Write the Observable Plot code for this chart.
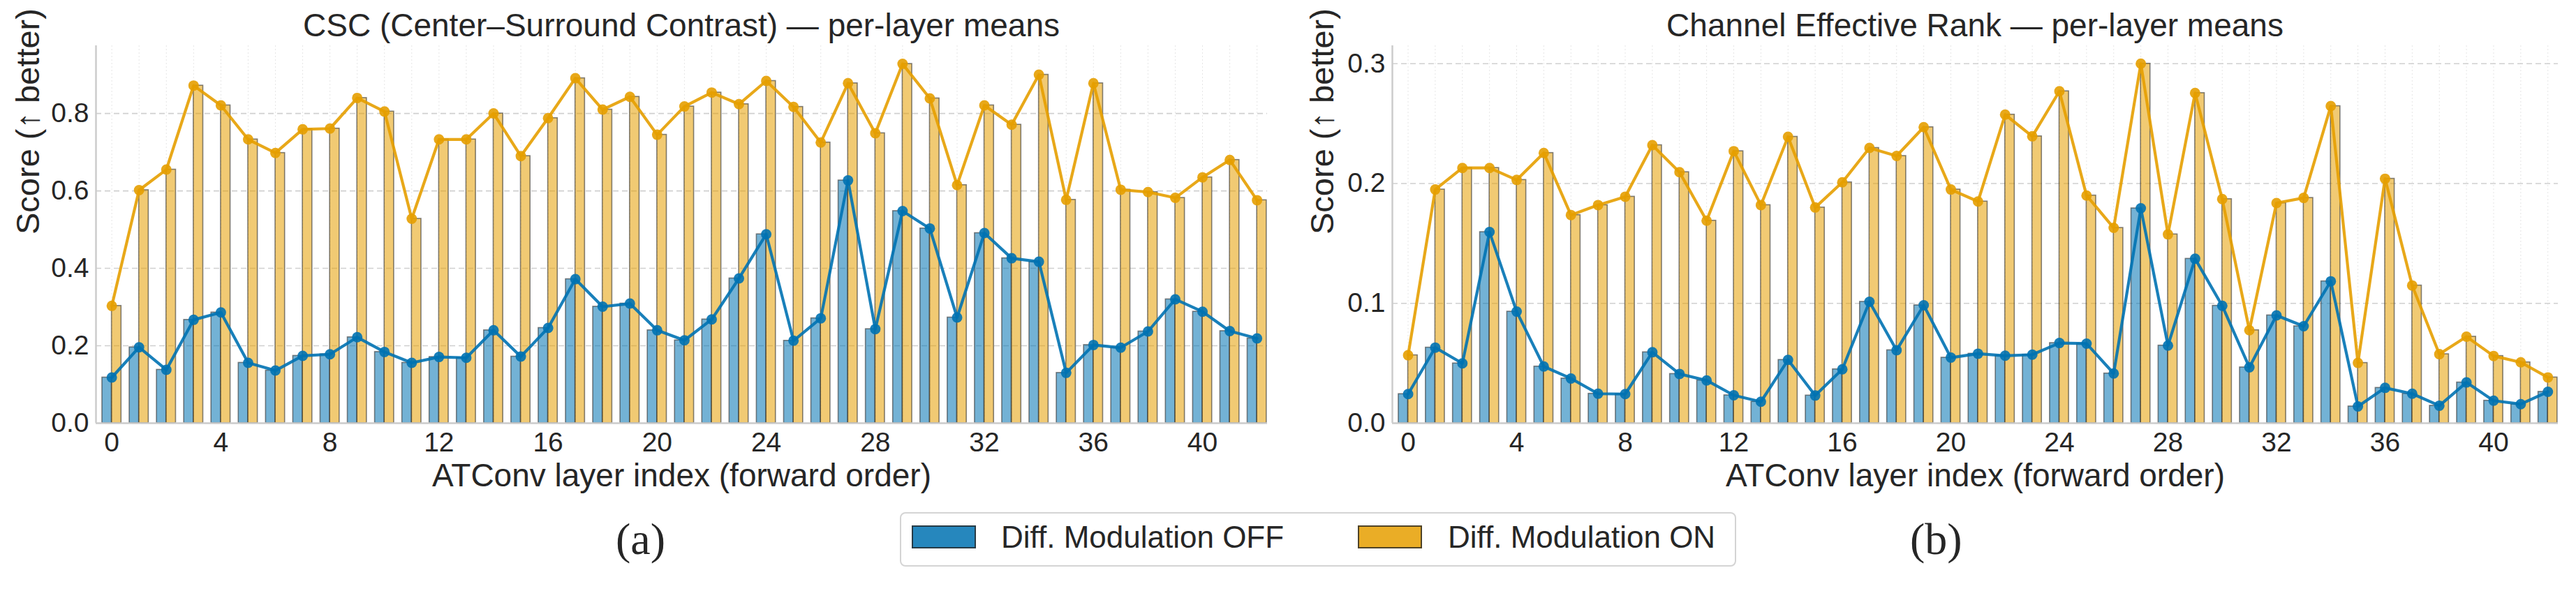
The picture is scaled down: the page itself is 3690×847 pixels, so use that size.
<!DOCTYPE html>
<html>
<head>
<meta charset="utf-8">
<script src="https://cdn.jsdelivr.net/npm/d3@7"></script>
<script src="https://cdn.jsdelivr.net/npm/@observablehq/plot@0.6"></script>
<style>
  body { margin: 0; background: #fff; }
  #fig { position: relative; width: 3690px; height: 847px; font-family: "Liberation Sans", Arial, sans-serif; color: #262626; overflow: hidden; }
  .panel { position: absolute; top: 0; }
  .title { position: absolute; top: 13px; font-size: 46px; line-height: 46px; text-align: center; white-space: nowrap; }
  .legend { position: absolute; left: 1289px; top: 734px; width: 1194px; height: 74px; border: 2px solid #d4d4d4; border-radius: 8px; background: #fff; }
  .sw { position: absolute; top: 17px; width: 88px; height: 29px; border: 2px solid rgba(40,40,40,0.8); }
  .lt { position: absolute; top: 12px; font-size: 44px; line-height: 44px; white-space: nowrap; }
  .tag { position: absolute; top: 741px; font-family: "Liberation Serif", "Times New Roman", serif; font-size: 64px; line-height: 64px; }
</style>
</head>
<body>
<div id="fig"></div>
<script>
// ---- data ----
const layers = [0,1,2,3,4,5,6,7,8,9,10,11,12,13,14,15,16,17,18,19,20,21,22,23,24,25,26,27,28,29,30,31,32,33,34,35,36,37,38,39,40,41,42];
const xTicks = [0,4,8,12,16,20,24,28,32,36,40];

const cscOff = [0.118,0.196,0.138,0.267,0.286,0.156,0.136,0.174,0.178,0.222,0.184,0.156,0.171,0.169,0.240,0.172,0.246,0.372,0.301,0.309,0.240,0.214,0.268,0.374,0.488,0.213,0.271,0.627,0.243,0.548,0.503,0.273,0.491,0.426,0.417,0.130,0.202,0.195,0.237,0.320,0.288,0.238,0.219];
const cscOn  = [0.303,0.602,0.655,0.872,0.821,0.733,0.698,0.759,0.761,0.840,0.805,0.528,0.733,0.733,0.800,0.690,0.788,0.891,0.810,0.843,0.745,0.818,0.854,0.824,0.884,0.817,0.725,0.878,0.749,0.928,0.839,0.615,0.821,0.771,0.900,0.577,0.878,0.603,0.597,0.582,0.635,0.680,0.576];

const rankOff = [0.0243,0.0631,0.0499,0.1595,0.0931,0.0473,0.0373,0.0246,0.0243,0.0592,0.0411,0.0357,0.0233,0.0179,0.0528,0.0231,0.0450,0.1013,0.0609,0.0984,0.0547,0.0580,0.0563,0.0572,0.0669,0.0664,0.0415,0.1793,0.0648,0.1372,0.0980,0.0466,0.0900,0.0809,0.1184,0.0140,0.0295,0.0246,0.0146,0.0340,0.0188,0.0159,0.0262];
const rankOn  = [0.0567,0.1950,0.2130,0.2130,0.2030,0.2255,0.1737,0.1820,0.1890,0.2320,0.2095,0.1690,0.2270,0.1820,0.2390,0.1800,0.2010,0.2297,0.2230,0.2470,0.1950,0.1850,0.2575,0.2394,0.2770,0.1900,0.1630,0.3000,0.1576,0.2755,0.1870,0.0776,0.1837,0.1880,0.2646,0.0503,0.2040,0.1149,0.0576,0.0722,0.0561,0.0508,0.0382];

const yTicksCsc = [0, 0.2, 0.4, 0.6, 0.8];
const yTicksRank = [0, 0.1, 0.2, 0.3];

const seriesNames = ["Diff. Modulation OFF", "Diff. Modulation ON"];
const seriesColors = ["#0072B2", "#E69F00"];

const titles = ["CSC (Center\u2013Surround Contrast) \u2014 per-layer means", "Channel Effective Rank \u2014 per-layer means"];
const xLabel = "ATConv layer index (forward order)";
const yLabel = "Score (\u2191 better)";
const tags = ["(a)", "(b)"];

// ---- drawing ----
const fig = document.getElementById("fig");
const W = 1845, H = 720, MT = 65, MB = 114;
const BW = 0.35;
const xDomain = [-0.58, 42.38];

function panel({off, on, yTicks, yMax, left, marginLeft, marginRight, yLabelX}) {
  const rows = layers.map((l, i) => ({layer: l, off: off[i], on: on[i]}));
  const chart = Plot.plot({
    width: W, height: H,
    marginTop: MT, marginBottom: MB, marginLeft, marginRight,
    style: {fontFamily: "'Liberation Sans', Arial, sans-serif", color: "#262626", background: "white", overflow: "visible"},
    x: {domain: xDomain},
    y: {domain: [0, yMax]},
    marks: [
      Plot.gridX(layers, {stroke: "#e6e6e6", strokeOpacity: 1, strokeWidth: 1, strokeDasharray: "2,3"}),
      Plot.gridY(yTicks, {stroke: "#d0d0d0", strokeOpacity: 1, strokeWidth: 1.6, strokeDasharray: "8,5"}),
      Plot.rectY(rows, {x1: d => d.layer - BW, x2: d => d.layer, y1: 0, y2: "off",
        fill: seriesColors[0], fillOpacity: 0.55, stroke: "#333", strokeOpacity: 0.6, strokeWidth: 1.6}),
      Plot.rectY(rows, {x1: d => d.layer, x2: d => d.layer + BW, y1: 0, y2: "on",
        fill: seriesColors[1], fillOpacity: 0.55, stroke: "#333", strokeOpacity: 0.6, strokeWidth: 1.6}),
      Plot.line(rows, {x: "layer", y: "off", stroke: seriesColors[0], strokeOpacity: 0.9, strokeWidth: 4.2}),
      Plot.dot(rows, {x: "layer", y: "off", r: 7.5, fill: seriesColors[0], fillOpacity: 0.9, stroke: null}),
      Plot.line(rows, {x: "layer", y: "on", stroke: seriesColors[1], strokeOpacity: 0.9, strokeWidth: 4.2}),
      Plot.dot(rows, {x: "layer", y: "on", r: 7.5, fill: seriesColors[1], fillOpacity: 0.9, stroke: null}),
      Plot.ruleY([0], {stroke: "#cccccc", strokeWidth: 2.5}),
      Plot.ruleX([xDomain[0]], {stroke: "#cccccc", strokeWidth: 2.5}),
      Plot.axisX(xTicks, {tickSize: 0, tickPadding: 13, fontSize: 39, label: null}),
      Plot.axisY(yTicks, {tickSize: 0, tickPadding: 10, fontSize: 39, tickFormat: d3.format(".1f"), label: null}),
      Plot.text([xLabel], {frameAnchor: "bottom", dy: 76, fontSize: 46, lineAnchor: "middle"}),
      Plot.text([yLabel], {frameAnchor: "left", dx: yLabelX - marginLeft, rotate: -90, fontSize: 47, lineAnchor: "middle"})
    ]
  });
  chart.classList.add("panel");
  chart.style.left = left + "px";
  fig.appendChild(chart);
}

panel({off: cscOff, on: cscOn, yTicks: yTicksCsc, yMax: 0.975, left: 0, marginLeft: 137, marginRight: 30, yLabelX: 40});
panel({off: rankOff, on: rankOn, yTicks: yTicksRank, yMax: 0.315, left: 1845, marginLeft: 149, marginRight: 26, yLabelX: 49});

// titles
[[137, 1815], [1994, 3664]].forEach(([a, b], i) => {
  const t = document.createElement("div");
  t.className = "title";
  t.style.left = a + "px";
  t.style.width = (b - a) + "px";
  t.textContent = titles[i];
  fig.appendChild(t);
});

// panel tags
[882, 2736].forEach((x, i) => {
  const t = document.createElement("div");
  t.className = "tag";
  t.style.left = x + "px";
  t.textContent = tags[i];
  fig.appendChild(t);
});

// legend
const lg = document.createElement("div");
lg.className = "legend";
const swLeft = [15, 654], txtLeft = [143, 783];
seriesNames.forEach((name, i) => {
  const sw = document.createElement("div");
  sw.className = "sw";
  sw.style.left = swLeft[i] + "px";
  sw.style.background = d3.color(seriesColors[i]).copy({opacity: 0.85}).formatRgb();
  lg.appendChild(sw);
  const tx = document.createElement("div");
  tx.className = "lt";
  tx.style.left = txtLeft[i] + "px";
  tx.textContent = name;
  lg.appendChild(tx);
});
fig.appendChild(lg);
</script>
</body>
</html>
